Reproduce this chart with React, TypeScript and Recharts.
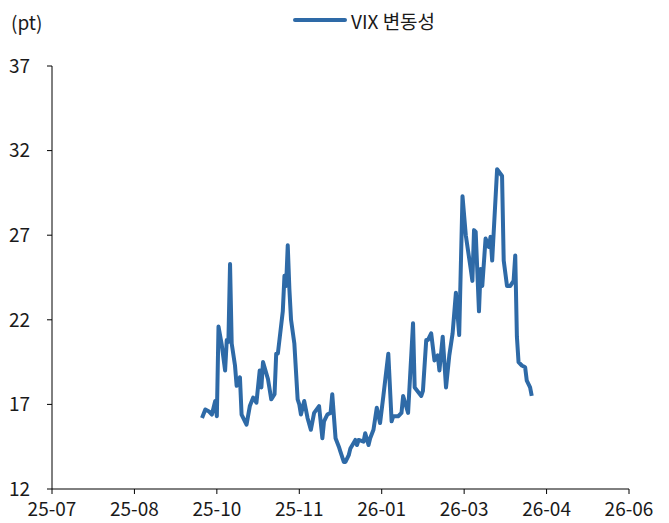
import React from 'react';
import { LineChart, Line, XAxis, YAxis } from 'recharts';

// Day offsets (from the first axis tick) and VIX values
const dayOffsets = [
  91, 93, 95, 97, 99, 100, 101, 103, 105, 106, 107, 108, 109, 111, 112, 114, 115, 118, 120, 122,
  124, 126, 127, 128, 131, 133, 135, 136, 137, 140, 141, 142, 143, 144, 145, 147, 149, 150, 151, 153,
  155, 157, 159, 162, 164, 165, 167, 169, 170, 172, 174, 175, 177, 178, 180, 181, 184, 185, 186, 189,
  190, 192, 193, 195, 197, 199, 201, 204, 206, 207, 210, 212, 213, 216, 219, 220, 224, 225, 227, 228,
  230, 232, 234, 235, 237, 239, 241, 243, 245, 247, 249, 251, 254, 255, 256, 257, 259, 260, 261, 263,
  265, 266, 267, 270, 273, 274, 276, 278, 280, 281, 282, 283, 285, 287, 288, 290, 291,
];
const vixValues = [
  16.2, 16.7, 16.6, 16.4, 17.2, 16.3, 21.6, 20.5, 19.0, 20.8, 20.7, 25.3, 20.6, 19.3, 18.1, 18.6, 16.4, 15.8, 16.9, 17.4,
  17.1, 19.0, 18.0, 19.5, 18.5, 17.3, 17.6, 20.0, 20.0, 22.5, 24.6, 24.0, 26.4, 23.8, 22.0, 20.6, 17.3, 17.0, 16.4, 17.2,
  16.2, 15.5, 16.5, 16.9, 15.0, 16.0, 16.4, 16.5, 17.6, 15.0, 14.5, 14.2, 13.6, 13.6, 14.0, 14.4, 14.9, 14.6, 14.9, 14.8,
  15.3, 14.6, 15.0, 15.5, 16.8, 15.9, 17.5, 20.0, 16.0, 16.3, 16.3, 16.5, 17.5, 16.5, 21.8, 18.0, 17.5, 17.8, 20.8, 20.8,
  21.2, 19.6, 19.9, 19.0, 21.0, 18.0, 19.9, 21.2, 23.6, 21.1, 29.3, 27.0, 25.0, 24.3, 27.3, 27.2, 22.5, 25.0, 24.0, 26.8,
  26.3, 26.9, 25.5, 30.9, 30.5, 25.5, 24.0, 24.0, 24.3, 25.8, 21.0, 19.5, 19.3, 19.2, 18.4, 18.0, 17.5,
];

const xTicks = [0, 50, 100, 150, 200, 250, 300, 350];
const xTickLabels = ['25-07', '25-08', '25-10', '25-11', '26-01', '26-03', '26-04', '26-06'];
const yTicks = [12, 17, 22, 27, 32, 37];

const seriesName = 'VIX 변동성';
const unitLabel = '(pt)';

const data = dayOffsets.map((d, i) => ({ day: d, vix: vixValues[i] }));

const FONT = '"Noto Sans CJK KR", "Noto Sans", sans-serif';
const LINE_COLOR = '#2E6AA7';
const TEXT_COLOR = '#1a1a1a';

export default function App() {
  return (
    <div style={{ position: 'absolute', left: 0, top: 0, width: 669, height: 523, background: '#fff', fontFamily: FONT }}>
      <div style={{ position: 'absolute', left: 11, top: 8, fontSize: 19, lineHeight: '28px', color: TEXT_COLOR }}>{unitLabel}</div>
      <div style={{ position: 'absolute', left: 293, top: 6, height: 28, display: 'flex', alignItems: 'center', fontSize: 19, color: TEXT_COLOR }}>
        <div style={{ width: 54, height: 4, background: LINE_COLOR, borderRadius: 2, marginRight: 4 }} />
        <span>{seriesName}</span>
      </div>
      <LineChart width={669} height={523} data={data} margin={{ top: 66, right: 40, bottom: 0, left: 0 }}>
        <XAxis
          dataKey="day"
          type="number"
          domain={[0, 350]}
          ticks={xTicks}
          tickFormatter={(v: number) => xTickLabels[xTicks.indexOf(v)] ?? ''}
          height={34}
          tickSize={5}
          tickMargin={9}
          stroke="#000"
          tick={{ fill: TEXT_COLOR, fontSize: 19, fontFamily: FONT }}
          interval={0}
        />
        <YAxis
          type="number"
          domain={[12, 37]}
          ticks={yTicks}
          width={52}
          tickSize={5}
          tickMargin={17}
          stroke="#000"
          tick={{ fill: TEXT_COLOR, fontSize: 19, fontFamily: FONT }}
          interval={0}
        />
        <Line
          type="linear"
          dataKey="vix"
          stroke={LINE_COLOR}
          strokeWidth={4}
          dot={false}
          isAnimationActive={false}
          strokeLinejoin="round"
        />
      </LineChart>
    </div>
  );
}
